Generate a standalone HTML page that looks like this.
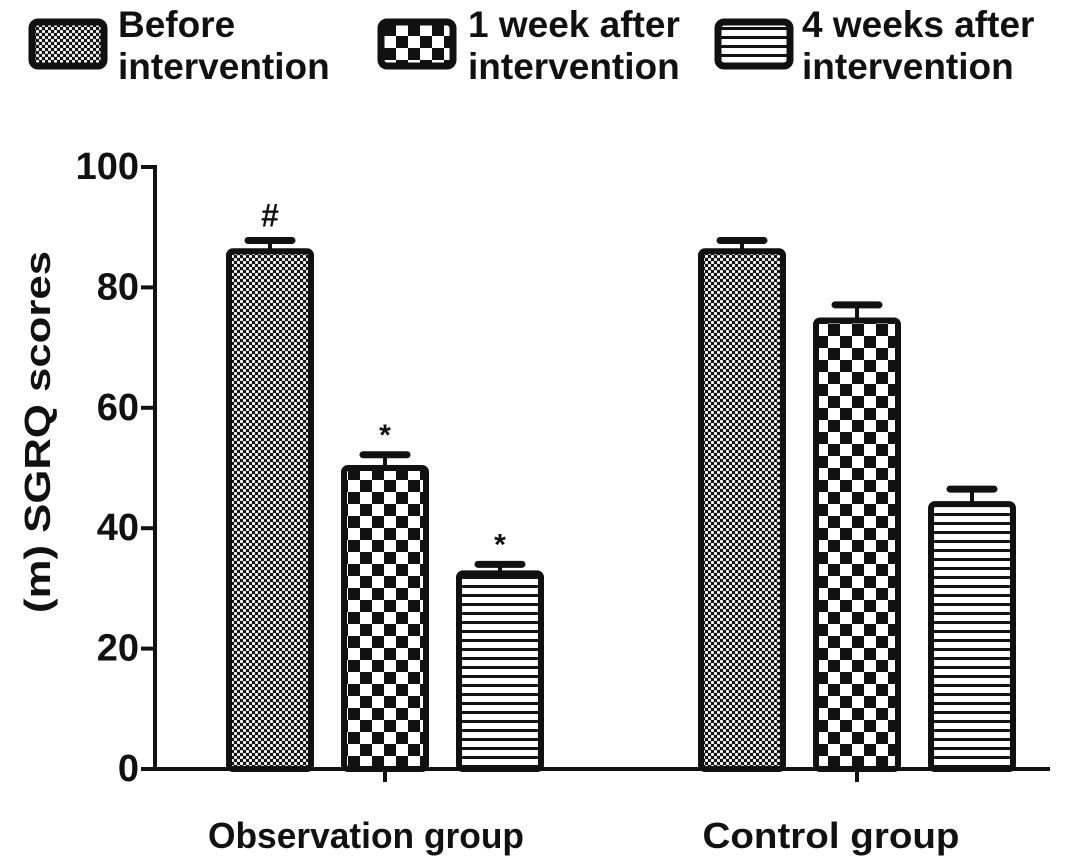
<!DOCTYPE html>
<html><head><meta charset="utf-8"><style>
body{margin:0;background:#fff}
svg text{font-family:"Liberation Sans",Arial,sans-serif;font-weight:bold;fill:#111}
</style></head><body>
<svg id="chart" width="1087" height="863" xmlns="http://www.w3.org/2000/svg">
<defs>
<pattern id="dots" width="6" height="6" patternUnits="userSpaceOnUse">
<rect width="6" height="6" fill="#111"/><circle cx="1.5" cy="1.5" r="1.6" fill="#fff"/><circle cx="4.5" cy="4.5" r="1.6" fill="#fff"/></pattern>
<pattern id="check" width="24" height="24" patternUnits="userSpaceOnUse">
<rect width="24" height="24" fill="#fff"/><rect width="12" height="12" fill="#111"/><rect x="12" y="12" width="12" height="12" fill="#111"/></pattern>
<pattern id="stripes" width="10" height="9" patternUnits="userSpaceOnUse">
<rect width="10" height="9" fill="#fff"/><rect y="0" width="10" height="3" fill="#111"/></pattern>
</defs>
<g id="legend"></g>
<g id="axes"></g>
<g id="bars"></g>
</svg>
<script>
const groups=["Observation group","Control group"];
const seriesNames=["Before intervention","1 week after intervention","4 weeks after intervention"];
const obsValues=[86,50,32.5];
const ctrlValues=[86,74.5,44];
const obsErr=[1.8,2.2,1.5];
const ctrlErr=[1.8,2.6,2.5];
const obsMarks=["#","*","*"];
const yTicks=[0,20,40,60,80,100];
const fills=["url(#dots)","url(#check)","url(#stripes)"];
const NS="http://www.w3.org/2000/svg";
function mk(t,a,p){const e=document.createElementNS(NS,t);for(const k in a)e.setAttribute(k,a[k]);(p||document.getElementById('chart')).appendChild(e);return e;}
const y0=769,y1=167;
function Y(v){return y0-(v-0)/(100-0)*(y0-y1);}
const groupStart=[229,701],barStep=115,barW=82;
function X(g,s){return groupStart[g]+s*barStep;}
const axes=document.getElementById('axes'),bars=document.getElementById('bars'),leg=document.getElementById('legend');
let el=mk('line',{x1:155,y1:Y(100)-2,x2:155,y2:y0+2,stroke:'#111','stroke-width':4},axes);

el=mk('line',{x1:153,y1:y0,x2:1050,y2:y0,stroke:'#111','stroke-width':4},axes);

yTicks.forEach(t=>{
 let l=mk('line',{x1:141,y1:Y(t),x2:155,y2:Y(t),stroke:'#111','stroke-width':4},axes);
 
 const s=String(t);
 let tx=mk('text',{x:139,y:Y(t)+12,'text-anchor':'end','font-size':38},axes);tx.textContent=s;
 
});
const labelLen=[316,257],labelShift=[-19,-26];
groups.forEach((g,i)=>{
 const c=X(i,1)+barW/2;
 let l=mk('line',{x1:c,y1:y0,x2:c,y2:y0+13,stroke:'#111','stroke-width':4},axes);
 
 let tx=mk('text',{x:c+labelShift[i],y:848,'text-anchor':'middle','font-size':36,textLength:labelLen[i],lengthAdjust:'spacingAndGlyphs'},axes);tx.textContent=g;
 
});
let yl=mk('text',{x:0,y:0,'text-anchor':'middle','font-size':36,textLength:362,lengthAdjust:'spacingAndGlyphs',transform:'translate(50,432) rotate(-90)'},axes);
yl.textContent='(m) SGRQ scores';

[obsValues,ctrlValues].forEach((vals,g)=>{
 const errs=g===0?obsErr:ctrlErr;
 vals.forEach((v,s)=>{
  const x=X(g,s),top=Y(v),et=Y(v+errs[s]),cx=x+barW/2;
  let e=mk('line',{x1:cx,y1:et,x2:cx,y2:top,stroke:'#111','stroke-width':4},bars);
  
  e=mk('line',{x1:cx-22,y1:et,x2:cx+22,y2:et,stroke:'#111','stroke-width':7,'stroke-linecap':'round'},bars);
  
  let r=mk('rect',{x:x,y:top,width:barW,height:y0-top,fill:fills[s],stroke:'#111','stroke-width':6,rx:4},bars);
  
  
  if(g===0&&obsMarks[s]){
   let m=mk('text',{x:cx,y:et-(obsMarks[s]==='#'?14:10),'text-anchor':'middle','font-size':obsMarks[s]==='#'?32:30},bars);
   m.textContent=obsMarks[s];
   
  }
 });
});
const legX=[32,381,718],legT=[118,468,802];
const legL=[["Before","intervention"],["1 week after","intervention"],["4 weeks after","intervention"]];
seriesNames.forEach((n,i)=>{
 let r=mk('rect',{x:legX[i],y:22,width:72,height:44,fill:fills[i],stroke:'#111','stroke-width':7,rx:6},leg);
 
 let t=mk('text',{x:legT[i],y:37,'font-size':37},leg);t.textContent=legL[i][0];
 
 let t2=mk('text',{x:legT[i],y:79,'font-size':37},leg);t2.textContent=legL[i][1];
 
});
</script>
</body></html>
